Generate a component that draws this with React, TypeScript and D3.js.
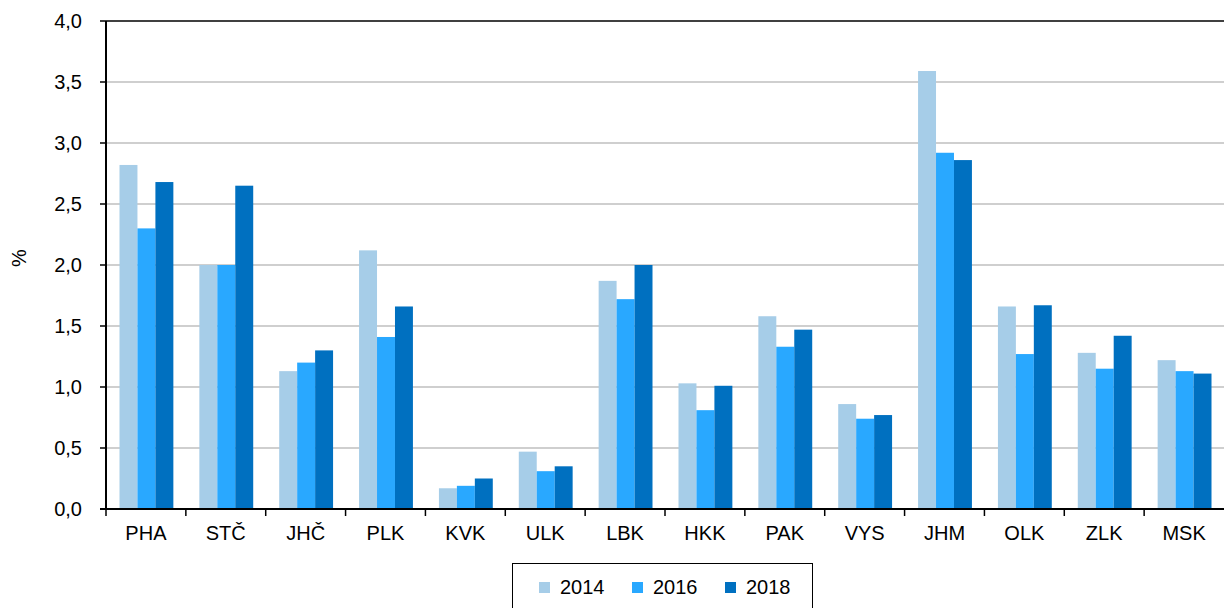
import React from "react";
import * as d3 from "d3";

const categories = ["PHA", "STČ", "JHČ", "PLK", "KVK", "ULK", "LBK", "HKK", "PAK", "VYS", "JHM", "OLK", "ZLK", "MSK"];
const seriesNames = ["2014", "2016", "2018"];
const values2014 = [2.82, 2.0, 1.13, 2.12, 0.17, 0.47, 1.87, 1.03, 1.58, 0.86, 3.59, 1.66, 1.28, 1.22];
const values2016 = [2.3, 2.0, 1.2, 1.41, 0.19, 0.31, 1.72, 0.81, 1.33, 0.74, 2.92, 1.27, 1.15, 1.13];
const values2018 = [2.68, 2.65, 1.3, 1.66, 0.25, 0.35, 2.0, 1.01, 1.47, 0.77, 2.86, 1.67, 1.42, 1.11];
const yTicks = [0, 0.5, 1, 1.5, 2, 2.5, 3, 3.5, 4];
const colors = ["#A6CDE8", "#29A8FF", "#0070C0"];

export default function App() {
  const W = 1224, H = 608;
  const left = 106, right = 1224, top = 21, bottom = 509;
  const font = "'Liberation Sans', Arial, sans-serif";
  const series = [values2014, values2016, values2018];
  const x = d3.scaleBand().domain(categories).range([left, right]).paddingInner(0).paddingOuter(0);
  const bw = x.bandwidth();
  const groupPad = 13.5 / 79.86;
  const x1 = d3.scaleBand().domain(seriesNames).range([bw * groupPad, bw * (1 - groupPad) + 1]);
  const y = d3.scaleLinear().domain([0, 4]).range([bottom, top]);
  const fmt = (v: number) => v.toFixed(1).replace(".", ",");

  return (
    <svg width={W} height={H} style={{ position: "absolute", left: 0, top: 0 }} fontFamily={font}>
      <rect x={0} y={0} width={W} height={H} fill="#fff" />
      {yTicks.filter(t => t > 0 && t < 4).map(t => (
        <line key={t} x1={left} x2={right} y1={y(t)} y2={y(t)} stroke="#BFBFBF" strokeWidth={1.3} />
      ))}
      <line x1={left} x2={right} y1={y(4)} y2={y(4)} stroke="#000" strokeWidth={1.5} />
      {series.map((vals, si) =>
        categories.map((c, ci) => (
          <rect key={si + "-" + c}
            x={(x(c) as number) + (x1(seriesNames[si]) as number)}
            y={y(vals[ci])}
            width={x1.bandwidth()}
            height={bottom - y(vals[ci])}
            fill={colors[si]} />
        ))
      )}
      <line x1={left} x2={left} y1={top} y2={bottom} stroke="#000" strokeWidth={2} />
      <line x1={left - 6} x2={right} y1={bottom} y2={bottom} stroke="#000" strokeWidth={2} />
      {yTicks.map(t => (
        <g key={t}>
          <line x1={left - 6} x2={left} y1={y(t)} y2={y(t)} stroke="#000" strokeWidth={1.5} />
          <text x={82} y={y(t) + 7} textAnchor="end" fontSize={20} fill="#000">{fmt(t)}</text>
        </g>
      ))}
      {categories.map((c, i) => (
        <g key={c}>
          <line x1={(x(c) as number)} x2={(x(c) as number)} y1={bottom} y2={bottom + 7} stroke="#000" strokeWidth={1.5} />
          <text x={(x(c) as number) + bw / 2} y={540} textAnchor="middle" fontSize={20} fill="#000">{c}</text>
        </g>
      ))}
      <text transform={`translate(26,258) rotate(-90)`} textAnchor="middle" fontSize={20} fill="#000">%</text>
      <rect x={512.5} y={563.5} width={300} height={60} fill="#fff" stroke="#000" strokeWidth={1} />
      {seriesNames.map((s, i) => {
        const mx = [539, 632, 725][i];
        return (
          <g key={s}>
            <rect x={mx} y={582} width={11} height={11} fill={colors[i]} />
            <text x={mx + 21} y={594} fontSize={20} fill="#000">{s}</text>
          </g>
        );
      })}
    </svg>
  );
}
